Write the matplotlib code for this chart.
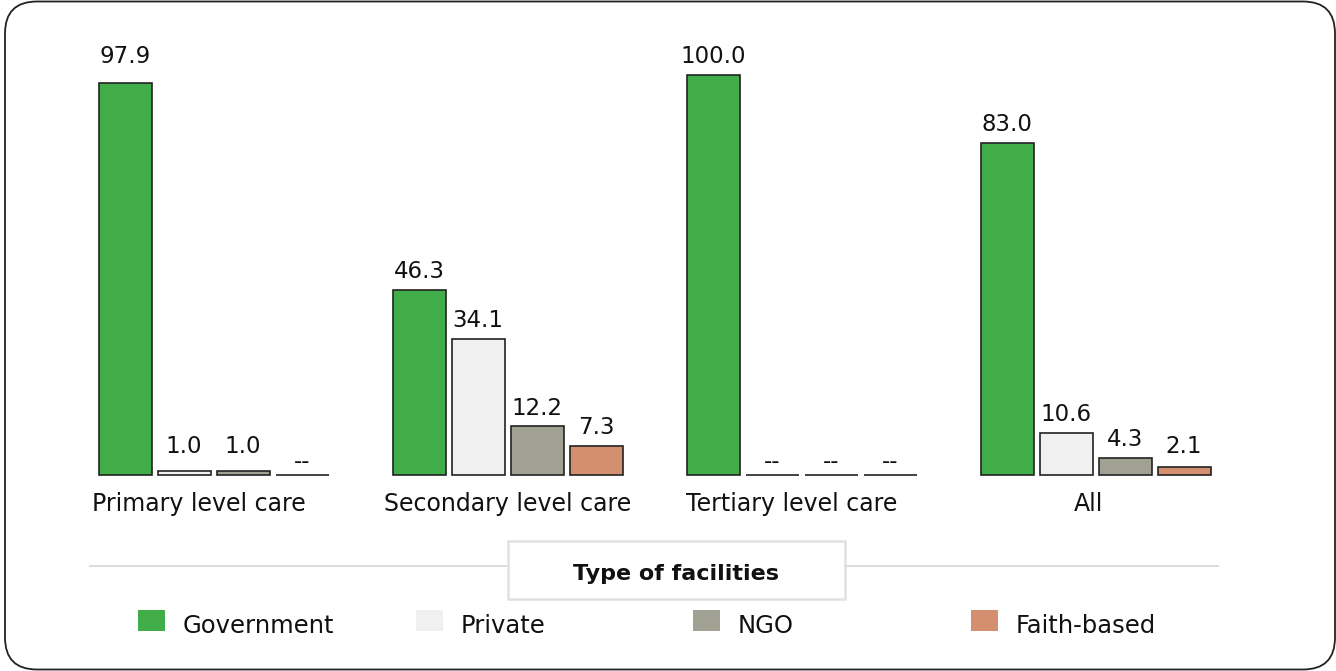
import numpy as np
import matplotlib.pyplot as plt
from matplotlib.patches import FancyBboxPatch, Rectangle
from matplotlib.transforms import IdentityTransform

plt.rcParams['font.family'] = ['DejaVu Sans']

# Share of facilities by type (%), per level of care
levels = ['Primary level care', 'Secondary level care', 'Tertiary level care', 'All']
facility_types = ['Government', 'Private', 'NGO', 'Faith-based']
government = [97.9, 46.3, 100.0, 83.0]
private = [1.0, 34.1, 0.0, 10.6]
ngo = [1.0, 12.2, 0.0, 4.3]
faith_based = [0.0, 7.3, 0.0, 2.1]

colors = ['#41ad49', '#f0f0f0', '#a0a093', '#d38f6f']
series = [government, private, ngo, faith_based]

W, H = 1336, 671
fig = plt.figure(figsize=(W / 100, H / 100), dpi=100)
ax = fig.add_axes([0, 0, 1, 1])
ax.set_xlim(-213.5 / 294, (W - 213.5) / 294)
ax.set_ylim((475 - H) / 4, 475 / 4)
ax.axis('off')

x = np.arange(len(levels))
offsets = np.array([-1.5, -0.5, 0.5, 1.5]) * (59 / 294)
width = 53 / 294
top = max(max(s) for s in series)

for vals, off, col in zip(series, offsets, colors):
    bars = ax.bar(x + off, vals, width, color=col, edgecolor='#222222', linewidth=1.2)
    for b, v in zip(bars, vals):
        cx = b.get_x() + b.get_width() / 2
        if v == 0:
            ax.annotate('--', (cx, 0), xytext=(0, 5.2), textcoords='offset points',
                        ha='center', va='baseline', fontsize=16.5, color='#111111')
            continue
        # very tall bars share one label row; tiny bars keep a minimum gap
        anchor = top if v > 0.95 * top else max(v, 2.5)
        ax.annotate(f'{v:.1f}', (cx, anchor), xytext=(0, 13), textcoords='offset points',
                    ha='center', va='center', fontsize=16.5, color='#111111')

label_shift = [-15, 0, -10, -7]  # small nudges in px
for xi, name, dx in zip(x, levels, label_shift):
    ax.text(xi + dx / 294, -7.2, name, ha='center', va='center', fontsize=17, color='#111111')


def fx(px):
    return px / W


def fy(py):
    return 1 - py / H


# Legend header with divider lines
fig.add_artist(plt.Line2D([fx(90), fx(508)], [fy(566), fy(566)], color='#dddddd', lw=1.5))
fig.add_artist(plt.Line2D([fx(845), fx(1218)], [fy(566), fy(566)], color='#dddddd', lw=1.5))
fig.add_artist(Rectangle((fx(508), fy(599)), fx(845) - fx(508), fy(541) - fy(599),
                         transform=fig.transFigure, facecolor='white',
                         edgecolor='#e2e0e0', linewidth=1.8))
fig.text(fx(676), fy(574), 'Type of facilities', ha='center', va='center',
         fontsize=16, fontweight='bold', color='#111111')

# Legend entries
for i, (name, col) in enumerate(zip(facility_types, colors)):
    x0 = 138 + 277.5 * i
    fig.add_artist(Rectangle((fx(x0), fy(631)), fx(27), 21 / H,
                             transform=fig.transFigure, facecolor=col, edgecolor='none'))
    fig.text(fx(x0 + 45), fy(626), name, ha='left', va='center', fontsize=17.5, color='#111111')

# Rounded outer frame, in pixel coordinates
fig.add_artist(FancyBboxPatch((5, 1.5), 1330, 668, boxstyle='round,pad=0,rounding_size=32',
                              transform=IdentityTransform(), facecolor='none',
                              edgecolor='#222222', linewidth=1.3))

fig.savefig('out.png', dpi=100)
